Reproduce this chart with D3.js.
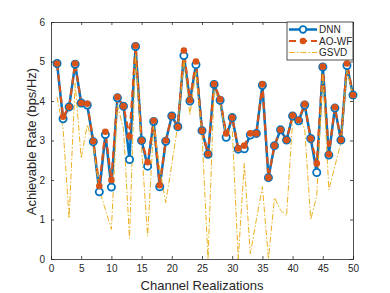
<!DOCTYPE html>
<html>
<head>
<meta charset="utf-8">
<script src="https://cdn.jsdelivr.net/npm/d3@7"></script>
<style>
  body { margin: 0; background: #fff; }
  text { font-family: "Liberation Sans", Arial, sans-serif; }
</style>
</head>
<body>
<svg id="chart" width="390" height="293"></svg>
<script>
// channel realizations 1..50
const realizations = d3.range(1, 51);
const dnn = [4.95, 3.55, 3.85, 4.93, 3.95, 3.90, 2.97, 1.70, 3.15, 1.82,
             4.08, 3.87, 2.52, 5.38, 3.00, 2.35, 3.48, 1.83, 2.98, 3.62,
             3.35, 5.15, 4.00, 4.92, 3.25, 2.65, 4.42, 4.02, 3.08, 3.58,
             2.78, 2.79, 3.14, 3.18, 4.40, 2.06, 2.87, 3.27, 3.01, 3.62,
             3.50, 3.90, 3.05, 2.19, 4.86, 2.63, 3.82, 3.01, 4.90, 4.15];
const aowf = [4.95, 3.60, 3.85, 4.95, 3.95, 3.93, 2.98, 1.85, 3.22, 2.00,
              4.10, 3.87, 3.10, 5.40, 3.00, 2.45, 3.50, 1.87, 3.00, 3.62,
              3.35, 5.28, 4.02, 5.00, 3.25, 2.66, 4.43, 4.04, 3.18, 3.58,
              2.80, 2.87, 3.18, 3.18, 4.42, 2.06, 2.87, 3.27, 3.01, 3.63,
              3.52, 3.92, 3.05, 2.42, 4.87, 2.65, 3.84, 3.01, 4.95, 4.15];
const gsvd = [4.10, 3.30, 1.03, 4.45, 2.55, 3.40, 2.90, 1.75, 1.25, 0.75,
              3.90, 3.30, 0.52, 5.20, 2.80, 0.58, 3.40, 2.30, 1.43, 2.40,
              3.40, 5.05, 3.65, 4.75, 3.15, 0.00, 4.30, 3.95, 3.10, 3.30,
              0.00, 2.42, 0.13, 1.00, 1.83, 0.00, 1.55, 1.24, 1.09, 3.50,
              3.60, 3.30, 1.00, 1.60, 4.70, 1.75, 2.35, 2.95, 4.80, 4.10];
const xTicks = d3.range(0, 51, 5);
const yTicks = d3.range(0, 7, 1);

const margin = { top: 22, right: 37, bottom: 34, left: 51 };
const W = 390, H = 293;
const width = W - margin.left - margin.right;
const height = H - margin.top - margin.bottom;

const svg = d3.select('#chart');
const g = svg.append('g').attr('transform', `translate(${margin.left},${margin.top})`);

const x = d3.scaleLinear().domain([0, 50]).range([0, width]);
const y = d3.scaleLinear().domain([0, 6]).range([height, 0]);

const axisColor = '#262626';

// clip lines to the axes box
svg.append('defs').append('clipPath').attr('id', 'clip')
  .append('rect').attr('width', width).attr('height', height);

// axes (ticks inward, box style)
const xAxis = g.append('g').attr('transform', `translate(0,${height})`)
  .call(d3.axisBottom(x).tickValues(xTicks).tickSize(-3).tickPadding(6).tickFormat(d3.format('d')));
const yAxis = g.append('g')
  .call(d3.axisLeft(y).tickValues(yTicks).tickSize(-3).tickPadding(6).tickFormat(d3.format('d')));
const xTop = g.append('g')
  .call(d3.axisTop(x).tickValues(xTicks).tickSize(-3).tickFormat(''));
const yRight = g.append('g').attr('transform', `translate(${width},0)`)
  .call(d3.axisRight(y).tickValues(yTicks).tickSize(-3).tickFormat(''));

[xAxis, yAxis, xTop, yRight].forEach(a => {
  a.select('.domain').attr('stroke', axisColor).attr('stroke-width', 0.8);
  a.selectAll('.tick line').attr('stroke', axisColor).attr('stroke-width', 0.8);
  a.selectAll('.tick text').attr('fill', axisColor).attr('font-size', 10)
    .style('font-family', '"Liberation Sans", Arial, sans-serif');
});

// axis labels
svg.append('text')
  .attr('x', margin.left + width / 2).attr('y', 290)
  .attr('text-anchor', 'middle').attr('font-size', 13).attr('fill', axisColor)
  .text('Channel Realizations');
svg.append('text')
  .attr('transform', `translate(36,${margin.top + height / 2 + 1}) rotate(-90)`)
  .attr('text-anchor', 'middle').attr('font-size', 13).attr('fill', axisColor)
  .text('Achievable Rate (bps/Hz)');

const plot = g.append('g').attr('clip-path', 'url(#clip)');

const line = d3.line().x((d, i) => x(realizations[i])).y(d => y(d));

// DNN
plot.append('path').datum(dnn).attr('d', line)
  .attr('fill', 'none').attr('stroke', '#0072BD').attr('stroke-width', 2.5);
g.append('g').selectAll('circle').data(dnn).join('circle')
  .attr('cx', (d, i) => x(realizations[i])).attr('cy', d => y(d))
  .attr('r', 3.6).attr('fill', '#fff').attr('stroke', '#0072BD').attr('stroke-width', 1.8);

// AO-WF
plot.append('path').datum(aowf).attr('d', line)
  .attr('fill', 'none').attr('stroke', '#D95319').attr('stroke-width', 2.2)
  .attr('stroke-dasharray', '7,4');
g.append('g').selectAll('circle').data(aowf).join('circle')
  .attr('cx', (d, i) => x(realizations[i])).attr('cy', d => y(d))
  .attr('r', 3.3).attr('fill', '#D95319');

// GSVD
plot.append('path').datum(gsvd).attr('d', line)
  .attr('fill', 'none').attr('stroke', '#EDB120').attr('stroke-width', 1)
  .attr('stroke-dasharray', '6,2,1.5,2');

// legend
const lg = svg.append('g').attr('transform', 'translate(287,22)');
lg.append('rect').attr('width', 66).attr('height', 38)
  .attr('fill', '#fff').attr('stroke', axisColor).attr('stroke-width', 0.8);
const items = [
  { name: 'DNN', color: '#0072BD', w: 2.5, dash: null, marker: 'open' },
  { name: 'AO-WF', color: '#D95319', w: 2.2, dash: '7,4', marker: 'dot' },
  { name: 'GSVD', color: '#EDB120', w: 1, dash: '6,2,1.5,2', marker: null }
];
items.forEach((it, i) => {
  const ly = 7.5 + i * 11.5;
  lg.append('line').attr('x1', 2).attr('x2', 30).attr('y1', ly).attr('y2', ly)
    .attr('stroke', it.color).attr('stroke-width', it.w)
    .attr('stroke-dasharray', it.dash);
  if (it.marker === 'open') {
    lg.append('circle').attr('cx', 16).attr('cy', ly).attr('r', 3.3)
      .attr('fill', '#fff').attr('stroke', it.color).attr('stroke-width', 1.8);
  } else if (it.marker === 'dot') {
    lg.append('circle').attr('cx', 16).attr('cy', ly).attr('r', 3.3).attr('fill', it.color);
  }
  lg.append('text').attr('x', 32).attr('y', ly + 3.5).attr('font-size', 10)
    .attr('fill', axisColor).text(it.name);
});
</script>
</body>
</html>
